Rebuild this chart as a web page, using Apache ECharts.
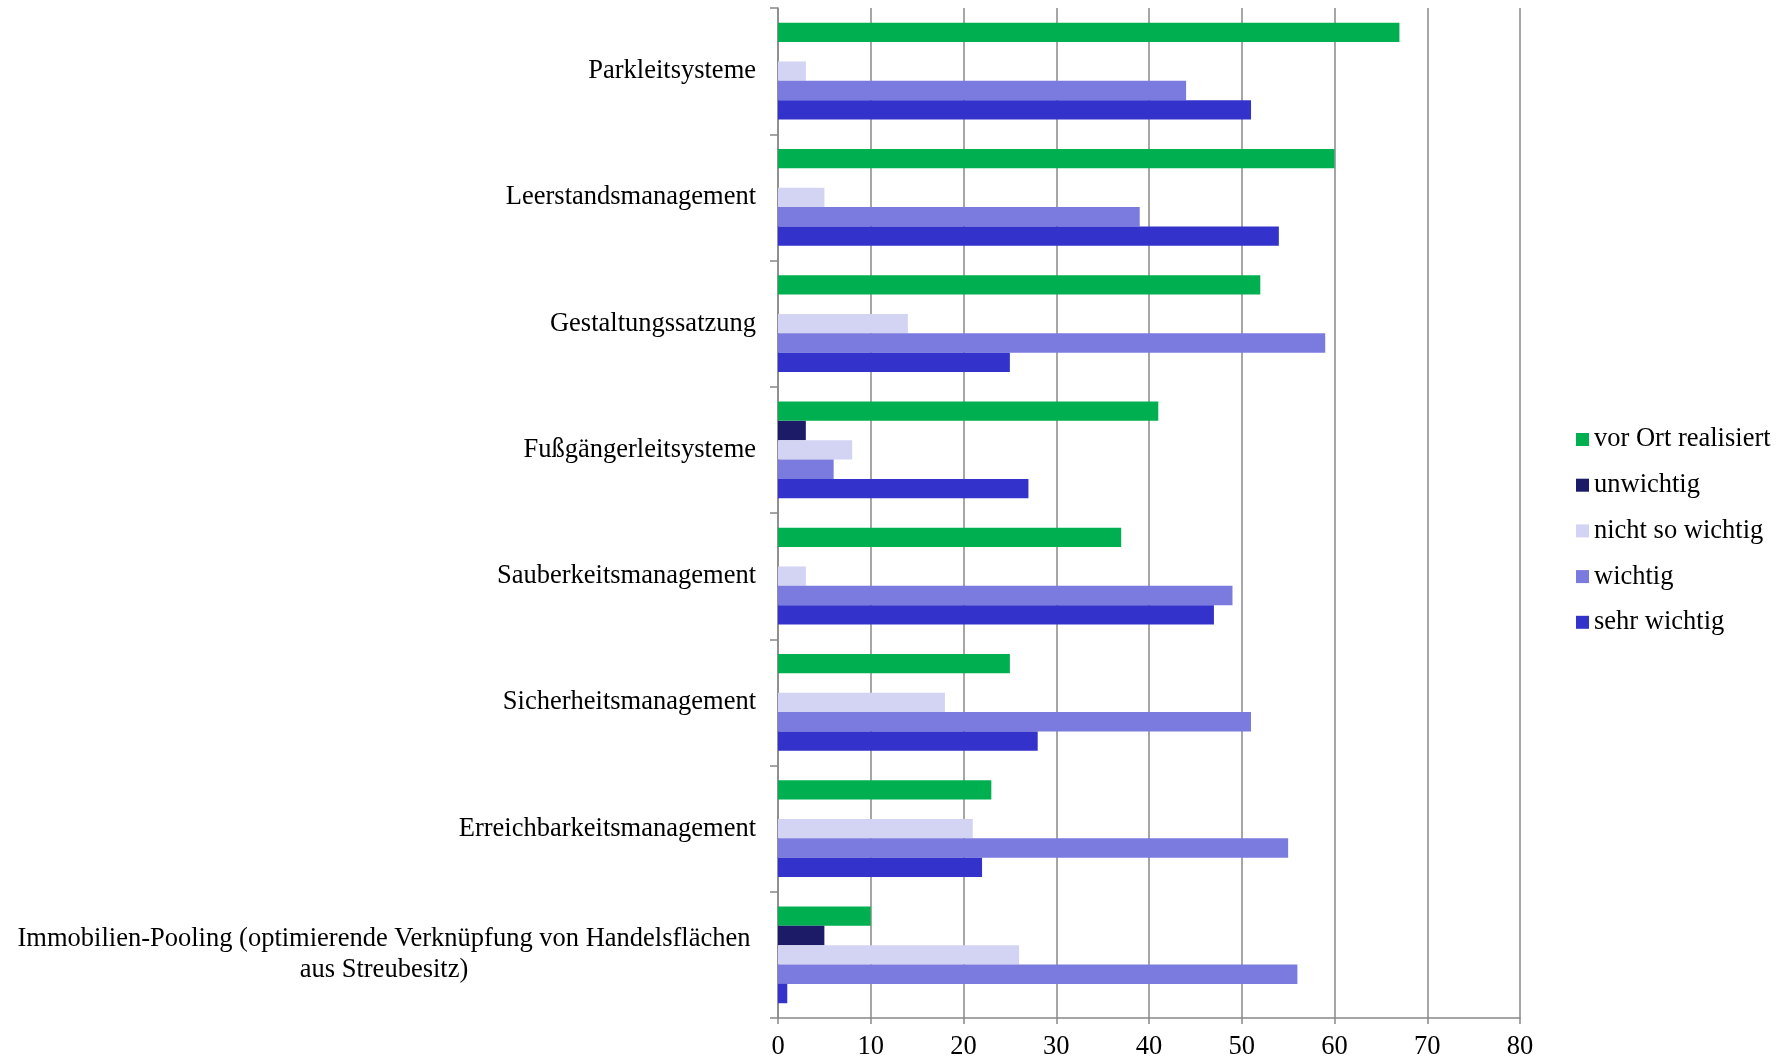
<!DOCTYPE html>
<html>
<head>
<meta charset="utf-8">
<script src="https://cdn.jsdelivr.net/npm/echarts@6/dist/echarts.min.js"></script>
<style>html,body{margin:0;padding:0;background:#fff;}#c{width:1785px;height:1061px;}</style>
</head>
<body>
<div id="c"></div>
<script>
const categories = [
  'Parkleitsysteme',
  'Leerstandsmanagement',
  'Gestaltungssatzung',
  'Fußgängerleitsysteme',
  'Sauberkeitsmanagement',
  'Sicherheitsmanagement',
  'Erreichbarkeitsmanagement',
  'Immobilien-Pooling (optimierende Verknüpfung von Handelsflächen\naus Streubesitz)'
];
const seriesNames = ['vor Ort realisiert', 'unwichtig', 'nicht so wichtig', 'wichtig', 'sehr wichtig'];
const vorOrt        = [67, 60, 52, 41, 37, 25, 23, 10];
const unwichtig     = [0, 0, 0, 3, 0, 0, 0, 5];
const nichtSoWichtig= [3, 5, 14, 8, 3, 18, 21, 26];
const wichtig       = [44, 39, 59, 6, 49, 51, 55, 56];
const sehrWichtig   = [51, 54, 25, 27, 47, 28, 22, 1];
const xTicks = [0, 10, 20, 30, 40, 50, 60, 70, 80];

const colors = ['#00B050', '#1B1B68', '#D3D3F4', '#7A7ADF', '#3333CC'];
const values = [vorOrt, unwichtig, nichtSoWichtig, wichtig, sehrWichtig];
const font = 'Liberation Serif, Times New Roman, serif';

const chart = echarts.init(document.getElementById('c'));
chart.setOption({
  animation: false,
  backgroundColor: '#fff',
  grid: { left: 778, top: 8, width: 742, height: 1010 },
  legend: {
    orient: 'vertical',
    left: 1571,
    top: 421,
    itemWidth: 13,
    itemHeight: 13,
    itemGap: 18.7,
    icon: 'rect',
    textStyle: { fontFamily: font, fontSize: 26.5, color: '#000', lineHeight: 26 },
    data: seriesNames
  },
  xAxis: {
    type: 'value',
    min: xTicks[0],
    max: xTicks[xTicks.length - 1],
    interval: 10,
    axisLine: { show: true, lineStyle: { color: '#888', width: 1.5 } },
    axisTick: { show: true, length: 6, lineStyle: { color: '#888', width: 1.5 } },
    splitLine: { show: true, lineStyle: { color: '#888', width: 1.5 } },
    axisLabel: { fontFamily: font, fontSize: 26.5, color: '#000', margin: 16 }
  },
  yAxis: {
    type: 'category',
    inverse: true,
    data: categories,
    axisLine: { show: true, lineStyle: { color: '#888', width: 1.5 } },
    axisTick: { show: true, length: 8, interval: 0, lineStyle: { color: '#888', width: 1.5 } },
    splitLine: { show: false },
    axisLabel: {
      interval: 0,
      margin: 22,
      fontFamily: font,
      fontSize: 26.5,
      color: '#000',
      formatter: function (v) {
        if (v.indexOf('\n') >= 0) {
          return v.split('\n').map(function (l) { return '{c|' + l + '}'; }).join('\n');
        }
        return v;
      },
      rich: {
        c: { width: 744, align: 'center', fontFamily: font, fontSize: 26.5, color: '#000', lineHeight: 31 }
      }
    }
  },
  series: seriesNames.map(function (name, i) {
    return {
      name: name,
      type: 'bar',
      data: values[i],
      barGap: '0%',
      barCategoryGap: '23.4%',
      itemStyle: { color: colors[i] }
    };
  })
});
</script>
</body>
</html>
